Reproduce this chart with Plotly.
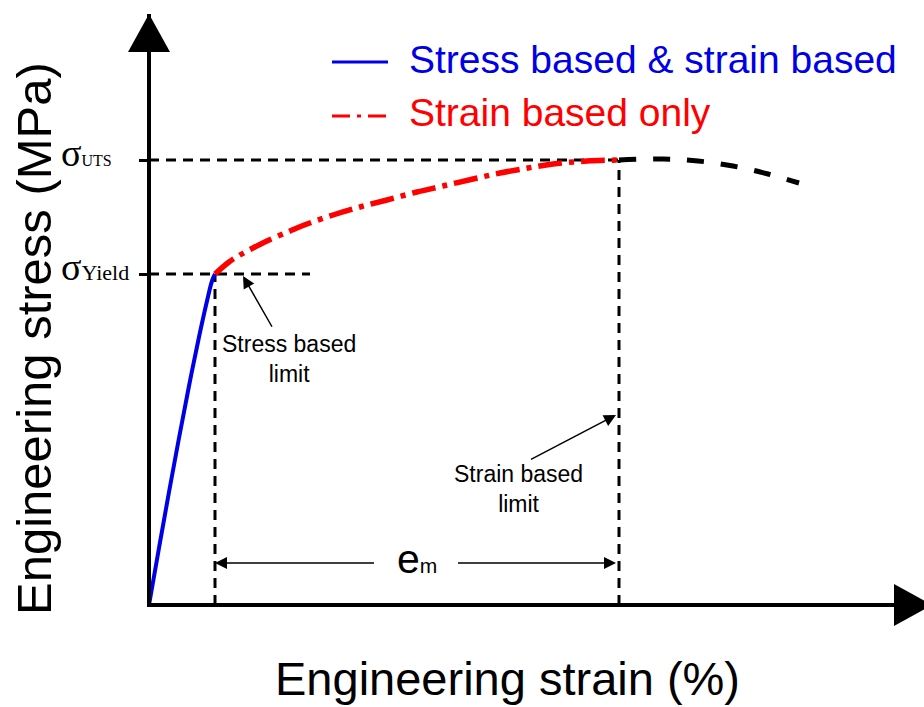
import plotly.graph_objects as go

# ---------------- data (schematic units) ----------------
strain_elastic = [0.00, 0.10, 0.20, 0.30, 0.40, 0.50, 0.58, 0.63, 0.66]
stress_elastic = [0.00, 0.57, 1.13, 1.67, 2.19, 2.68, 3.04, 3.24, 3.31]

strain_plastic = [0.66, 0.80, 0.91, 1.04, 1.18, 1.41, 1.58, 1.84, 2.11, 2.38, 2.68,
                  2.94, 3.24, 3.51, 3.79, 4.04, 4.38, 4.70]
stress_plastic = [3.31, 3.43, 3.50, 3.57, 3.64, 3.74, 3.81, 3.90, 3.98, 4.05, 4.13,
                  4.19, 4.26, 4.32, 4.37, 4.41, 4.44, 4.45]

strain_necking = [4.70, 5.14, 5.49, 5.84, 6.19, 6.50]
stress_necking = [4.45, 4.46, 4.44, 4.39, 4.31, 4.22]

strain_yield, stress_yield = 0.66, 3.31
strain_uts, stress_uts = 4.70, 4.45
yield_line_end = 1.61

stress_tick_vals = [stress_yield, stress_uts]
stress_tick_labels = ["σ<span style='font-size:22px'>Yield</span>",
                      "σ<span style='font-size:16px'>UTS</span>"]
legend_names = ["Stress based & strain based", "Strain based only"]
x_title = "Engineering strain (%)"
y_title = "Engineering stress (MPa)"

# ---------------- layout geometry ----------------
W, H = 924, 707
ML, MR, MT, MB = 151, 0, 14, 104
X_RANGE = [0.02, 7.75]
Y_RANGE = [0.02, 5.91]
PW, PH = W - ML - MR, H - MT - MB


def pxx(p):  # pixel x -> paper
    return (p - ML) / PW


def pxy(p):  # pixel y -> paper
    return (H - MB - p) / PH


SANS = "Liberation Sans, Arial, sans-serif"
SERIF = "Liberation Serif, Times New Roman, serif"
BLUE = "#0000E6"
RED = "#FF0000"

fig = go.Figure()
fig.add_trace(go.Scatter(x=strain_elastic, y=stress_elastic, mode="lines",
                         line=dict(color=BLUE, width=4, shape="spline"),
                         showlegend=False, hoverinfo="skip"))
fig.add_trace(go.Scatter(x=strain_plastic, y=stress_plastic, mode="lines",
                         line=dict(color=RED, width=5.5, shape="spline",
                                   dash="24px,7px,5px,7px"),
                         showlegend=False, hoverinfo="skip"))
fig.add_trace(go.Scatter(x=strain_necking, y=stress_necking, mode="lines",
                         line=dict(color="black", width=5, shape="spline",
                                   dash="17px,17px"),
                         showlegend=False, hoverinfo="skip"))

shapes = []
ref_dash = dict(color="black", width=3, dash="10px,7px")
# reference dashed lines
shapes.append(dict(type="line", xref="x", yref="y", x0=0, x1=strain_uts,
                   y0=stress_uts, y1=stress_uts, line=ref_dash, layer="below"))
shapes.append(dict(type="line", xref="x", yref="y", x0=0, x1=yield_line_end,
                   y0=stress_yield, y1=stress_yield, line=ref_dash, layer="below"))
shapes.append(dict(type="line", xref="x", yref="y", x0=strain_yield, x1=strain_yield,
                   y0=0, y1=stress_yield, line=ref_dash, layer="below"))
shapes.append(dict(type="line", xref="x", yref="y", x0=strain_uts, x1=strain_uts,
                   y0=0, y1=stress_uts, line=ref_dash, layer="below"))

# axis arrow heads
shapes.append(dict(type="path", xref="paper", yref="paper",
                   path=f"M {pxx(128)},{pxy(52)} L {pxx(149)},{pxy(14)} L {pxx(170)},{pxy(52)} Z",
                   fillcolor="black", line=dict(width=0)))
shapes.append(dict(type="path", xref="paper", yref="paper",
                   path=f"M {pxx(894)},{pxy(584)} L {pxx(932)},{pxy(605)} L {pxx(894)},{pxy(626)} Z",
                   fillcolor="black", line=dict(width=0)))

# legend samples
shapes.append(dict(type="line", xref="x", yref="y", x0=1.83, x1=2.39, y0=5.43, y1=5.43,
                   line=dict(color=BLUE, width=3)))
shapes.append(dict(type="line", xref="x", yref="y", x0=1.83, x1=2.37, y0=4.89, y1=4.89,
                   line=dict(color=RED, width=3, dash="18px,7px,4px,7px")))

ann = []
# legend texts
ann.append(dict(x=2.58, y=5.455, xref="x", yref="y", xanchor="left", yanchor="middle",
                text=legend_names[0], showarrow=False,
                font=dict(family=SANS, size=39, color=BLUE)))
ann.append(dict(x=2.58, y=4.925, xref="x", yref="y", xanchor="left", yanchor="middle",
                text=legend_names[1], showarrow=False,
                font=dict(family=SANS, size=39, color=RED)))

# stress tick labels (left aligned)
for v, t in zip(stress_tick_vals, stress_tick_labels):
    ann.append(dict(x=pxx(59), y=v, xref="paper", yref="y", xanchor="left",
                    yanchor="middle", yshift=7, text=t, showarrow=False,
                    font=dict(family=SERIF, size=38, color="black")))

# axis titles
ann.append(dict(x=pxx(507), y=pxy(679), xref="paper", yref="paper", text=x_title,
                showarrow=False, xanchor="center", yanchor="middle",
                font=dict(family=SANS, size=47, color="black")))
ann.append(dict(x=pxx(34), y=pxy(339), xref="paper", yref="paper", text=y_title,
                showarrow=False, textangle=-90, xanchor="center", yanchor="middle",
                font=dict(family=SANS, size=49, color="black")))

# e_m dimension arrows
arrow_style = dict(showarrow=True, arrowhead=2, arrowwidth=1.5, arrowsize=1.6,
                   arrowcolor="black", text=" ", axref="x", ayref="y",
                   xref="x", yref="y")
ann.append(dict(x=strain_yield, y=0.42, ax=2.28, ay=0.42, **arrow_style))
ann.append(dict(x=4.67, y=0.42, ax=3.06, ay=0.42, **arrow_style))
ann.append(dict(x=2.68, y=0.46, xref="x", yref="y", showarrow=False,
                text="e<span style='font-size:21px'>m</span>",
                font=dict(family=SANS, size=41, color="black")))

# limit annotations
ann.append(dict(x=0.94, y=3.29, ax=1.26, ay=2.73, **arrow_style))
ann.append(dict(x=1.40, y=2.46, xref="x", yref="y", showarrow=False,
                text="Stress based<br>limit", align="center",
                font=dict(family=SANS, size=23, color="black")))
ann.append(dict(x=4.67, y=1.90, ax=3.79, ay=1.44, **arrow_style))
ann.append(dict(x=3.69, y=1.16, xref="x", yref="y", showarrow=False,
                text="Strain based<br>limit", align="center",
                font=dict(family=SANS, size=23, color="black")))

fig.update_layout(
    width=W, height=H,
    margin=dict(l=ML, r=MR, t=MT, b=MB, pad=0),
    paper_bgcolor="white", plot_bgcolor="white",
    showlegend=False,
    shapes=shapes, annotations=ann,
    xaxis=dict(range=X_RANGE, showline=True, linewidth=4, linecolor="black",
               showgrid=False, zeroline=False, ticks="", showticklabels=False,
               fixedrange=True),
    yaxis=dict(range=Y_RANGE, showline=True, linewidth=4, linecolor="black",
               showgrid=False, zeroline=False, ticks="outside", ticklen=8,
               tickwidth=3, tickcolor="black", tickvals=stress_tick_vals,
               showticklabels=False, fixedrange=True),
)

fig.write_html("out.html", config={"displayModeBar": False})
